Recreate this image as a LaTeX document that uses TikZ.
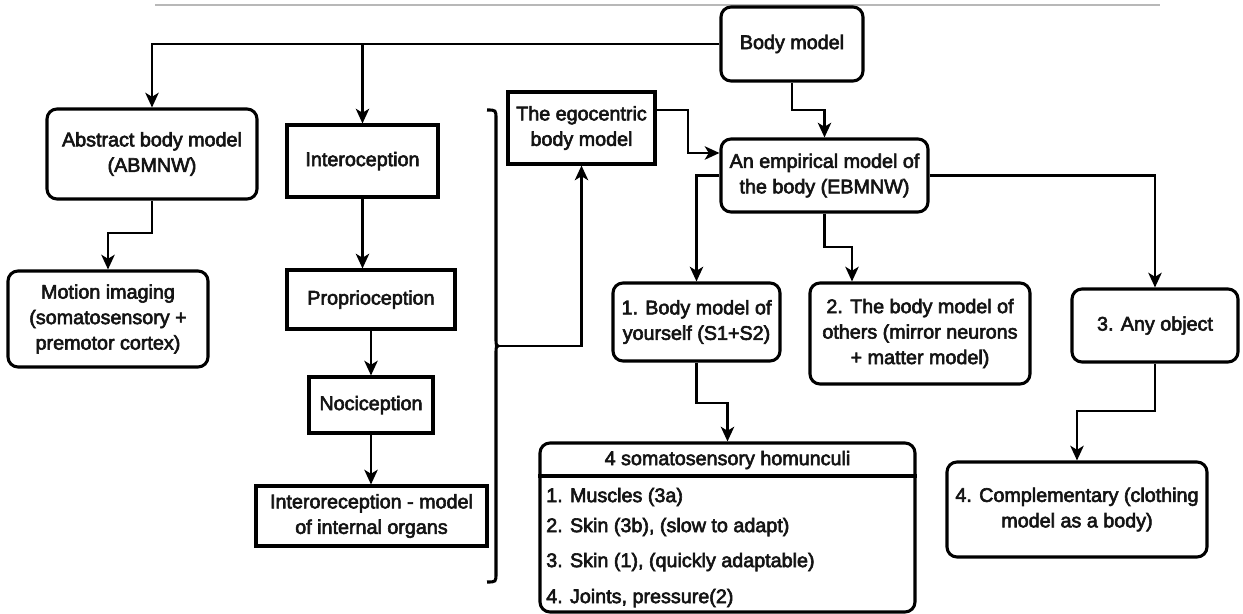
\documentclass[tikz,border=0pt]{standalone}
\usepackage{fontspec}
\setmainfont{Liberation Sans}
\newfontfamily\dfont{Liberation Sans}[FakeBold=3]
\usetikzlibrary{arrows.meta,calc}
\begin{document}
\begin{tikzpicture}[x=0.75pt,y=-0.75pt,
  font=\dfont\fontsize{14.8}{19.1}\selectfont,
  box/.style={draw,line width=2.3pt,inner sep=0pt,align=center,text=black!92},
  rbox/.style={box,rounded corners=7.5pt},
  txt/.style={inner sep=0pt,text=black!92},
  arr/.style={line width=2.1pt,-{Stealth[length=11pt,width=10pt,inset=3pt]}}]
\useasboundingbox (0,0) rectangle (1243,614);
% header rule
\draw[line width=1.6pt,color=black!28] (155,5) -- (1160,5);
% nodes
\node[rbox,minimum width=106.5pt,minimum height=55.5pt] (body) at (792,44) {Body model};
\node[rbox,minimum width=157.5pt,minimum height=67.5pt] (abstract) at (152,154) {Abstract body model\\(ABMNW)};
\node[box,minimum width=113.25pt,minimum height=54pt] (intero) at (362.5,161) {Interoception};
\node[rbox,minimum width=150pt,minimum height=72pt] (motion) at (108,319) {Motion imaging\\(somatosensory +\\premotor cortex)};
\node[box,minimum width=126pt,minimum height=44.25pt] (proprio) at (371,299.5) {Proprioception};
\node[box,minimum width=93pt,minimum height=42pt] (noci) at (371,405) {Nociception};
\node[box,minimum width=173.25pt,minimum height=45pt] (interor) at (371.5,516) {Interoreception - model\\of internal organs};
\node[box,minimum width=110.25pt,minimum height=54pt] (ego) at (581.5,128) {The egocentric\\body model};
\node[rbox,minimum width=155.25pt,minimum height=54.75pt] (ebm) at (824.5,175.5) {An empirical model of\\the body (EBMNW)};
\node[rbox,minimum width=125.25pt,minimum height=58.5pt] (b1) at (696.5,322) {1. Body model of\\yourself (S1+S2)};
\node[rbox,minimum width=165pt,minimum height=75.75pt] (b2) at (920,333.5) {2. The body model of\\others (mirror neurons\\+ matter model)};
\node[rbox,minimum width=124.5pt,minimum height=54.75pt] (b3) at (1155,325.5) {3. Any object};
\node[rbox,minimum width=195pt,minimum height=71.25pt] (b4) at (1077,509.5) {4. Complementary (clothing\\model as a body)};
\node[rbox,minimum width=281.25pt,minimum height=126.75pt] (hom) at (727.5,527.5) {};
\draw[line width=2.3pt] (hom.west |- 0,476) -- (hom.east |- 0,476);
\node[txt] (homh) at (727.5,460) {4 somatosensory homunculi};
\node[txt,anchor=west] (h1) at (546,497) {1. Muscles (3a)};
\node[txt,anchor=west] (h2) at (546,527) {2. Skin (3b), (slow to adapt)};
\node[txt,anchor=west] (h3) at (546,562) {3. Skin (1), (quickly adaptable)};
\node[txt,anchor=west] (h4) at (546,598) {4. Joints, pressure(2)};
% brace
\coordinate (btip) at (499,346);
\draw[line width=2.3pt] (487,110) .. controls (496,110) .. (496,119) -- (496,337)
  .. controls (496,346) .. (btip) .. controls (496,346) .. (496,355) -- (496,573)
  .. controls (496,582) .. (487,582);
% connectors
\draw[arr] (body.west) -| (abstract.north);
\draw[arr] (intero.north |- body.west) -- (intero.north);
\draw[arr] (abstract.south) -- (152,233) -| (motion.north);
\draw[arr] (intero.south) -- (proprio.north -| intero.south);
\draw[arr] (proprio.south) -- (noci.north);
\draw[arr] (noci.south) -- (noci.south |- interor.north);
\draw[arr] (btip) -| (ego.south);
\draw[arr] (ego.east |- 0,110) -- (688,110) -- (688,153) -- (ebm.west |- 0,153);
\draw[arr] (body.south) -- (792,110) -| (ebm.north);
\draw[arr] (ebm.west) -| (b1.north);
\draw[arr] (ebm.south) -- (824.5,247) -| (b2.north -| 852,0);
\draw[arr] (ebm.east) -| (b3.north);
\draw[arr] (b1.south) -- (696.5,403) -| (hom.north);
\draw[arr] (b3.south) -- (1155,411) -| (b4.north);
\end{tikzpicture}
\end{document}
